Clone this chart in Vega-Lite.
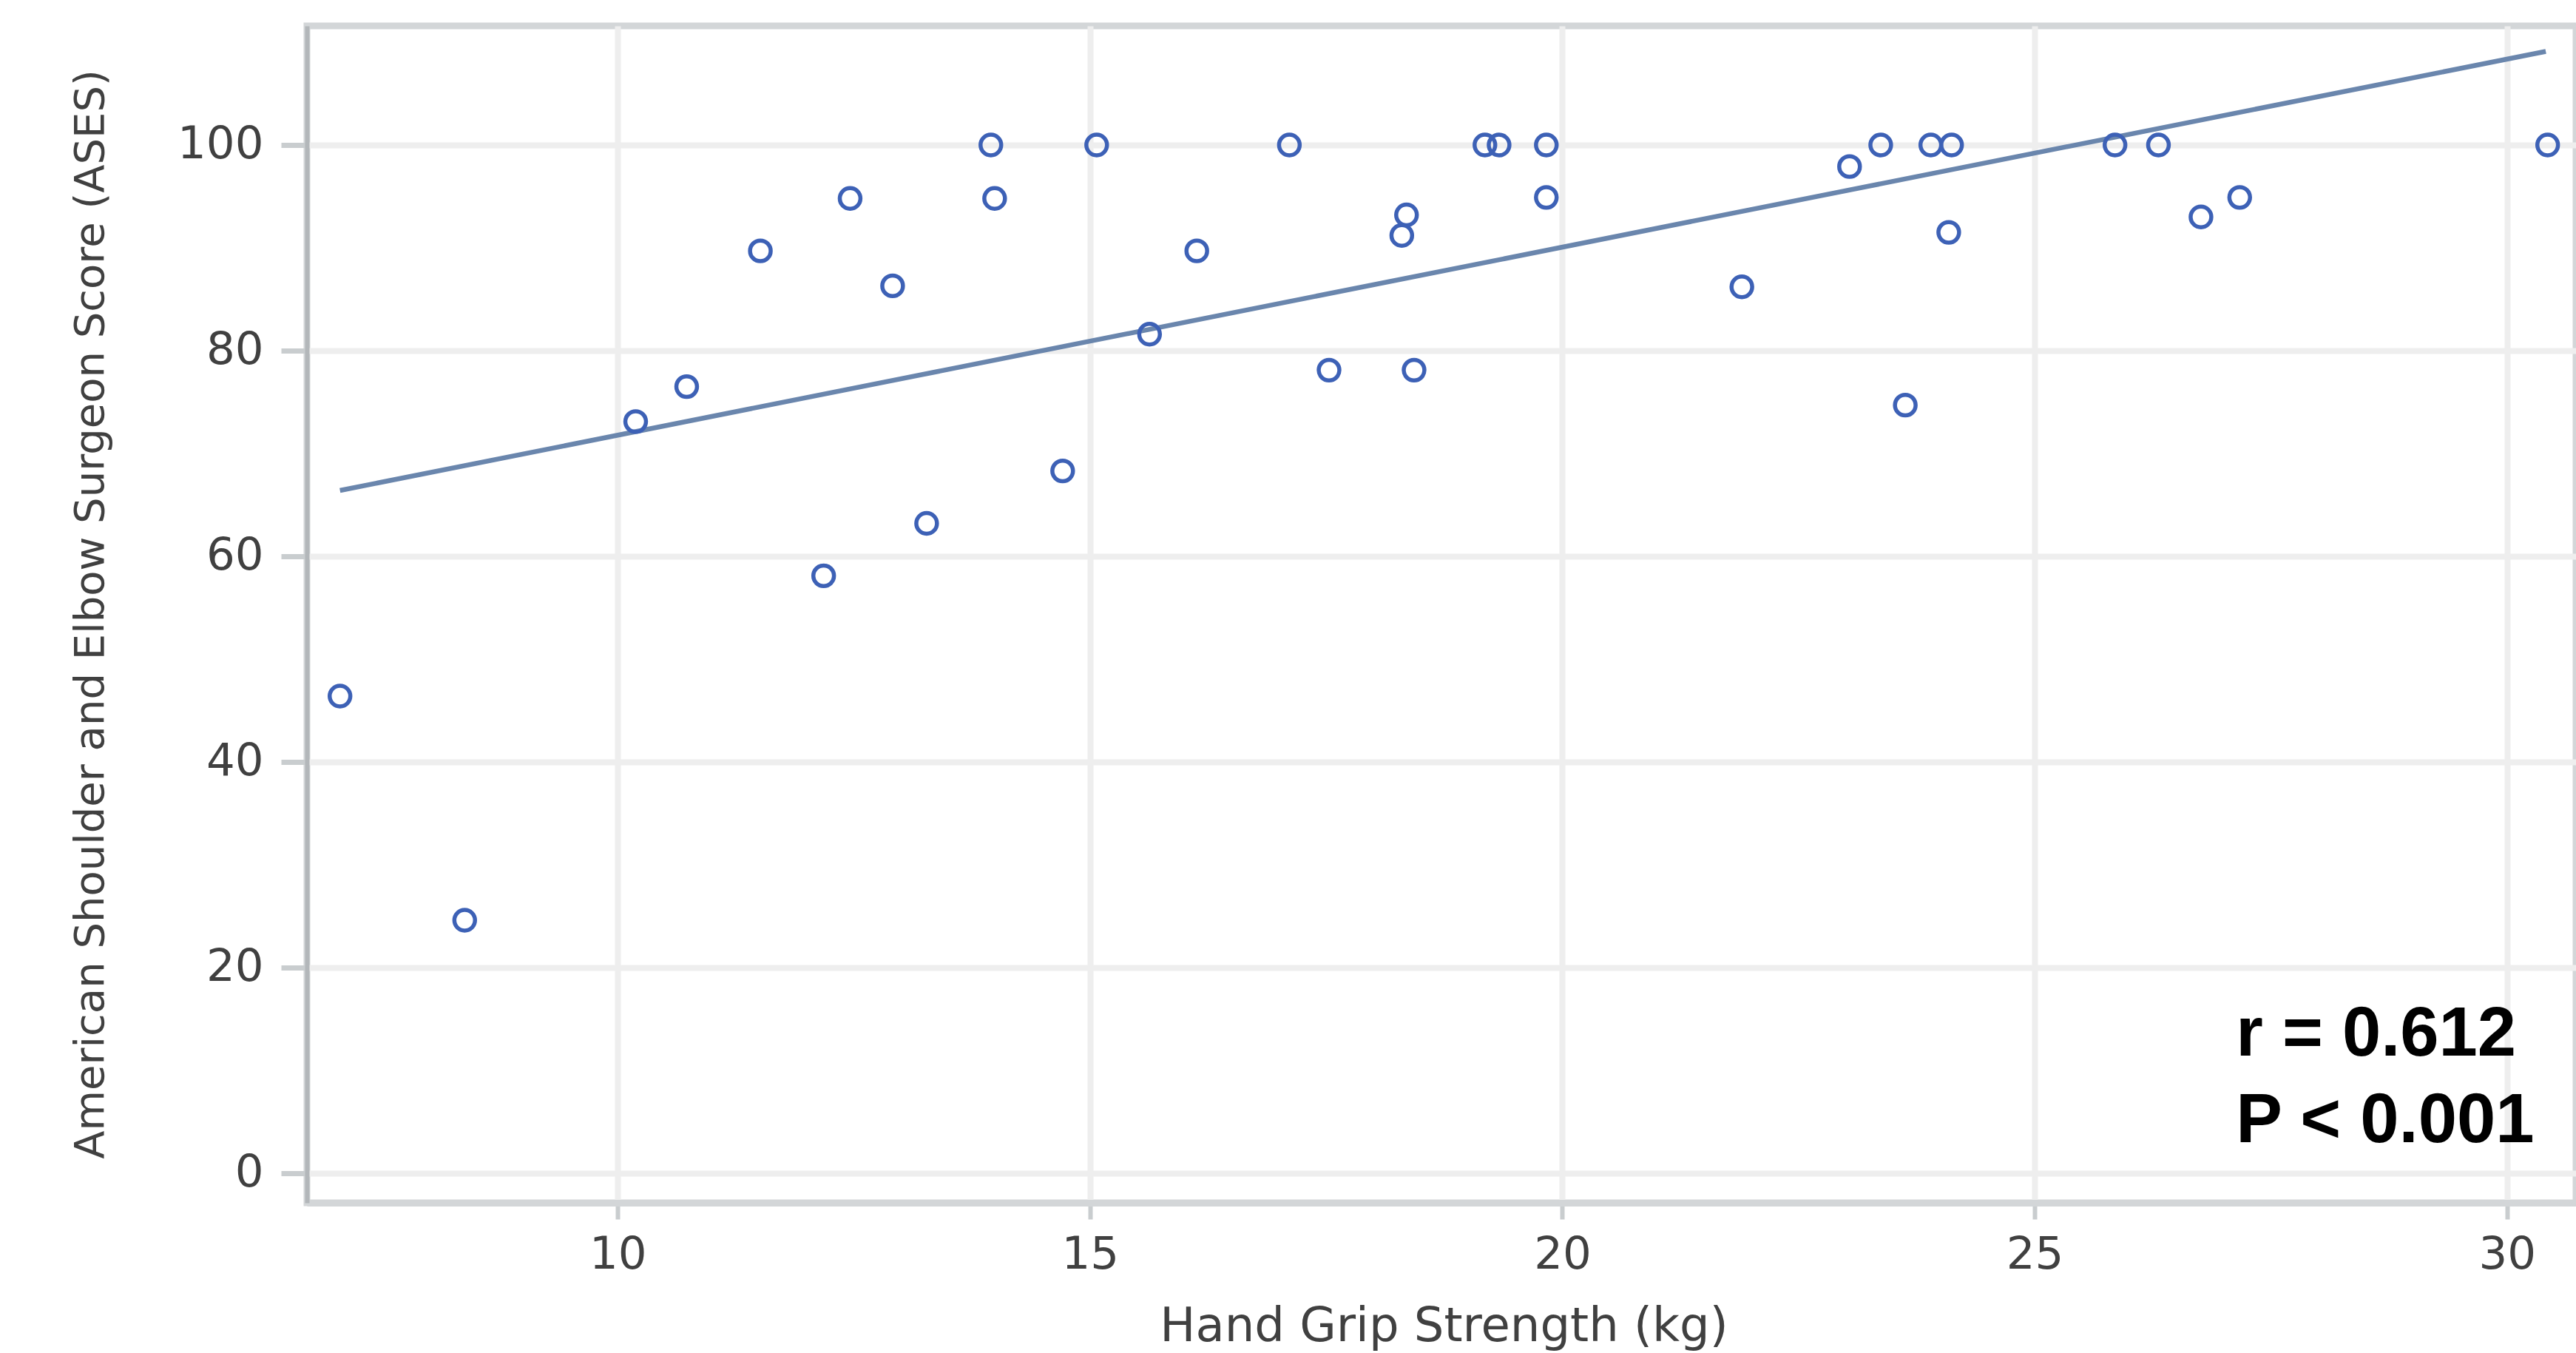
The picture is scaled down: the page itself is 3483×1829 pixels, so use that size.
{
  "$schema": "https://vega.github.io/schema/vega-lite/v6.json",
  "width": 3068,
  "height": 1591,
  "autosize": {"type": "none"},
  "padding": {"left": 415, "top": 35, "right": 0, "bottom": 203},
  "background": "white",
  "config": {"view": {"stroke": "#d3d6d8", "strokeWidth": 9}},
  "datasets": {
    "points": [
      {"grip": 7.06, "ases": 46.4},
      {"grip": 8.38, "ases": 24.6},
      {"grip": 10.19, "ases": 73.1},
      {"grip": 10.73, "ases": 76.5},
      {"grip": 11.51, "ases": 89.7},
      {"grip": 12.18, "ases": 58.1},
      {"grip": 12.46, "ases": 94.8},
      {"grip": 12.91, "ases": 86.3},
      {"grip": 13.27, "ases": 63.2},
      {"grip": 13.95, "ases": 100},
      {"grip": 13.99, "ases": 94.8},
      {"grip": 14.71, "ases": 68.3},
      {"grip": 15.07, "ases": 100},
      {"grip": 15.63, "ases": 81.6},
      {"grip": 16.13, "ases": 89.7},
      {"grip": 17.11, "ases": 100},
      {"grip": 17.53, "ases": 78.1},
      {"grip": 18.30, "ases": 91.2},
      {"grip": 18.35, "ases": 93.2},
      {"grip": 18.43, "ases": 78.1},
      {"grip": 19.18, "ases": 100},
      {"grip": 19.33, "ases": 100},
      {"grip": 19.83, "ases": 100},
      {"grip": 19.83, "ases": 94.9},
      {"grip": 21.90, "ases": 86.2},
      {"grip": 23.04, "ases": 97.9},
      {"grip": 23.37, "ases": 100},
      {"grip": 23.63, "ases": 74.7},
      {"grip": 23.90, "ases": 100},
      {"grip": 24.12, "ases": 100},
      {"grip": 24.09, "ases": 91.5},
      {"grip": 25.85, "ases": 100},
      {"grip": 26.31, "ases": 100},
      {"grip": 26.76, "ases": 93.0},
      {"grip": 27.17, "ases": 94.9},
      {"grip": 30.43, "ases": 100}
    ],
    "fit": [
      {"grip": 7.06, "ases": 66.4},
      {"grip": 30.41, "ases": 109.1}
    ]
  },
  "layer": [
    {
      "data": {"name": "fit"},
      "mark": {"type": "line", "color": "#6a86ad", "strokeWidth": 6.5},
      "encoding": {
        "x": {
          "field": "grip",
          "type": "quantitative",
          "scale": {"domain": [6.71, 30.73], "nice": false, "zero": false},
          "axis": {
            "values": [10, 15, 20, 25, 30],
            "format": "d",
            "grid": true,
            "gridColor": "#eeeeee",
            "gridWidth": 8,
            "domain": true,
            "domainColor": "#d3d6d8",
            "domainWidth": 9,
            "ticks": true,
            "tickColor": "#c9cdcf",
            "tickWidth": 6,
            "tickSize": 22,
            "labelFont": "DejaVu Sans",
            "labelFontSize": 61,
            "labelColor": "#404040",
            "labelPadding": 18,
            "labelFlush": false,
            "labelOverlap": false,
            "title": "Hand Grip Strength (kg)",
            "titleFont": "DejaVu Sans",
            "titleFontSize": 64,
            "titleFontWeight": "normal",
            "titleColor": "#404040",
            "titleX": 1537,
            "titleY": 186,
            "titleBaseline": "alphabetic",
            "titleAlign": "center"
          }
        },
        "y": {
          "field": "ases",
          "type": "quantitative",
          "scale": {"domain": [-2.88, 111.58], "nice": false, "zero": false},
          "axis": {
            "values": [0, 20, 40, 60, 80, 100],
            "format": "d",
            "grid": true,
            "gridColor": "#eeeeee",
            "gridWidth": 8,
            "domain": true,
            "domainColor": "#b3b7ba",
            "domainWidth": 6,
            "ticks": true,
            "tickColor": "#c9cdcf",
            "tickWidth": 7,
            "tickSize": 35,
            "labelFont": "DejaVu Sans",
            "labelFontSize": 61,
            "labelColor": "#404040",
            "labelPadding": 24,
            "labelFlush": false,
            "labelOverlap": false,
            "title": "American Shoulder and Elbow Surgeon Score (ASES)",
            "titleFont": "DejaVu Sans",
            "titleFontSize": 56,
            "titleFontWeight": "normal",
            "titleColor": "#404040",
            "titleAngle": -90,
            "titleX": -276,
            "titleY": 795,
            "titleBaseline": "alphabetic",
            "titleAlign": "center"
          }
        }
      }
    },
    {
      "data": {"name": "points"},
      "mark": {"type": "point", "shape": "circle", "filled": false, "size": 780, "strokeWidth": 5.5, "color": "#3d61b6", "opacity": 1},
      "encoding": {
        "x": {"field": "grip", "type": "quantitative"},
        "y": {"field": "ases", "type": "quantitative"}
      }
    },
    {
      "data": {"values": [{"note": "stats"}]},
      "mark": {
        "type": "text",
        "text": ["r = 0.612", "P < 0.001"],
        "font": "Liberation Sans",
        "fontWeight": "bold",
        "fontSize": 94,
        "lineHeight": 117,
        "align": "left",
        "baseline": "alphabetic",
        "color": "#000000"
      },
      "encoding": {
        "x": {"datum": 27.13},
        "y": {"datum": 11.44}
      }
    }
  ]
}
